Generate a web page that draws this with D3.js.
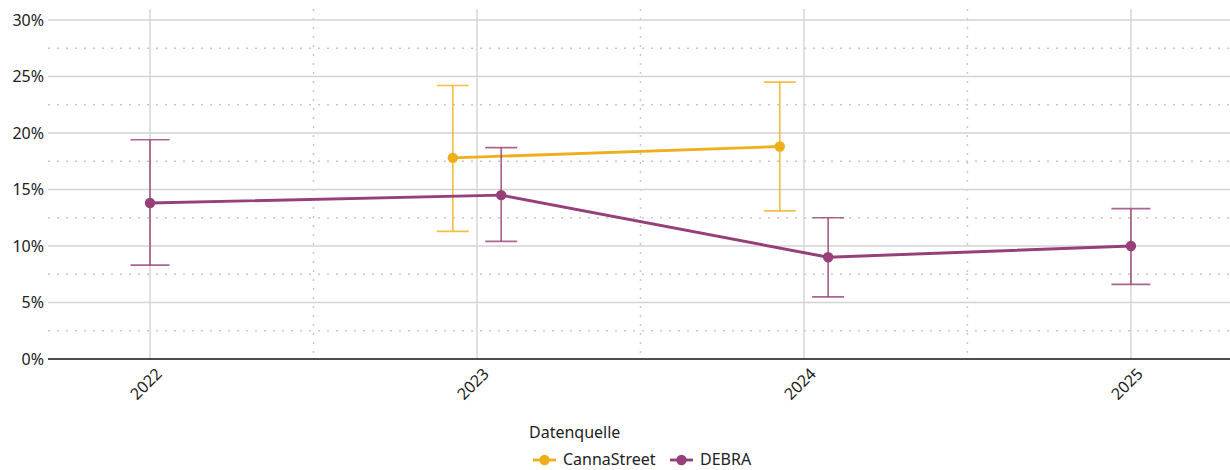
<!DOCTYPE html>
<html>
<head>
<meta charset="utf-8">
<script src="https://cdn.jsdelivr.net/npm/d3@7"></script>
<style>
  body { margin: 0; background: #fff; }
  svg text { font-family: "Noto Sans", "DejaVu Sans", sans-serif; fill: #222; }
</style>
</head>
<body>
<svg id="chart" width="1230" height="470"></svg>
<script>
const years = [2022, 2023, 2024, 2025];
const sources = ["CannaStreet", "DEBRA"];
const colors = { CannaStreet: "#EFAF1D", DEBRA: "#963F78" };

// value, lower, upper in percent
const cannaYears = [2023, 2024];
const cannaValue = [17.8, 18.8];
const cannaLower = [11.3, 13.1];
const cannaUpper = [24.2, 24.5];

const debraYears = [2022, 2023, 2024, 2025];
const debraValue = [13.8, 14.5, 9.0, 10.0];
const debraLower = [8.3, 10.4, 5.5, 6.6];
const debraUpper = [19.4, 18.7, 12.5, 13.3];

const yTicks = [0, 5, 10, 15, 20, 25, 30];

const svg = d3.select("#chart");
const plotLeft = 48, plotRight = 1230, plotTop = 9, plotBottom = 359;

const x = d3.scaleLinear().domain([2021.688, 2025.303]).range([plotLeft, plotRight]);
const y = d3.scaleLinear().domain([0, 30.97]).range([plotBottom, plotTop]);
const dodge = 0.074;

const grid = svg.append("g");

// minor grid (dotted)
const minorY = d3.range(2.5, 30, 5);
grid.selectAll("line.minor-y").data(minorY).join("line")
  .attr("x1", plotLeft).attr("x2", plotRight)
  .attr("y1", d => y(d)).attr("y2", d => y(d))
  .attr("stroke", "#c8c8c8").attr("stroke-width", 1.5)
  .attr("stroke-dasharray", "2,7");
const minorX = [2022.5, 2023.5, 2024.5];
grid.selectAll("line.minor-x").data(minorX).join("line")
  .attr("x1", d => x(d)).attr("x2", d => x(d))
  .attr("y1", plotTop).attr("y2", plotBottom)
  .attr("stroke", "#c8c8c8").attr("stroke-width", 1.5)
  .attr("stroke-dasharray", "2,7");

// major grid
grid.selectAll("line.major-y").data(yTicks.slice(1)).join("line")
  .attr("x1", plotLeft).attr("x2", plotRight)
  .attr("y1", d => y(d)).attr("y2", d => y(d))
  .attr("stroke", "#d3d3d3").attr("stroke-width", 1.4);
grid.selectAll("line.major-x").data(years).join("line")
  .attr("x1", d => x(d)).attr("x2", d => x(d))
  .attr("y1", plotTop).attr("y2", plotBottom)
  .attr("stroke", "#d3d3d3").attr("stroke-width", 1.4);

// baseline
svg.append("line")
  .attr("x1", plotLeft).attr("x2", plotRight)
  .attr("y1", y(0)).attr("y2", y(0))
  .attr("stroke", "#111").attr("stroke-width", 1.6);

// y labels
svg.append("g").selectAll("text").data(yTicks).join("text")
  .attr("x", plotLeft - 4).attr("y", d => y(d))
  .attr("dy", "0.35em")
  .attr("text-anchor", "end")
  .style("font-size", "16px")
  .text(d => d + "%");

// x labels rotated
svg.append("g").selectAll("text").data(years).join("text")
  .attr("transform", d => `translate(${x(d) + 5},${plotBottom + 8}) rotate(-45)`)
  .attr("text-anchor", "end")
  .attr("dy", "0.7em")
  .style("font-size", "16px")
  .text(d => d);

function series(name, yrs, vals, lo, hi, offset, capHalf) {
  const data = yrs.map((yr, i) => ({ xv: yr + offset[i], v: vals[i], lo: lo[i], hi: hi[i], cap: capHalf[i] }));
  const g = svg.append("g");
  const c = colors[name];
  // error bars
  g.selectAll("line.eb").data(data).join("line")
    .attr("x1", d => x(d.xv)).attr("x2", d => x(d.xv))
    .attr("y1", d => y(d.lo)).attr("y2", d => y(d.hi))
    .attr("stroke", c).attr("stroke-opacity", 0.8).attr("stroke-width", 1.7);
  ["lo", "hi"].forEach(k => {
    g.selectAll("line.cap-" + k).data(data).join("line")
      .attr("x1", d => x(d.xv) - d.cap).attr("x2", d => x(d.xv) + d.cap)
      .attr("y1", d => y(d[k])).attr("y2", d => y(d[k]))
      .attr("stroke", c).attr("stroke-opacity", 0.8).attr("stroke-width", 1.7);
  });
  g.append("path").datum(data)
    .attr("d", d3.line().x(d => x(d.xv)).y(d => y(d.v)))
    .attr("fill", "none").attr("stroke", c).attr("stroke-width", 2.9);
  g.selectAll("circle").data(data).join("circle")
    .attr("cx", d => x(d.xv)).attr("cy", d => y(d.v)).attr("r", 5.2)
    .attr("fill", c);
}

series("CannaStreet", cannaYears, cannaValue, cannaLower, cannaUpper,
  [-dodge, -dodge], [16, 16]);
series("DEBRA", debraYears, debraValue, debraLower, debraUpper,
  [0, dodge, dodge, 0], [19.5, 16, 16, 19.5]);

// legend
const lg = svg.append("g");
lg.append("text").attr("x", 529).attr("y", 438)
  .style("font-size", "16px").text("Datenquelle");
const items = [{ name: "CannaStreet", x: 533 }, { name: "DEBRA", x: 670 }];
items.forEach(it => {
  lg.append("line").attr("x1", it.x).attr("x2", it.x + 23)
    .attr("y1", 460).attr("y2", 460)
    .attr("stroke", colors[it.name]).attr("stroke-width", 2.9);
  lg.append("circle").attr("cx", it.x + 11.5).attr("cy", 460).attr("r", 5.2)
    .attr("fill", colors[it.name]);
  lg.append("text").attr("x", it.x + 30).attr("y", 459).attr("dy", "0.35em")
    .style("font-size", "16px").text(it.name);
});
</script>
</body>
</html>
